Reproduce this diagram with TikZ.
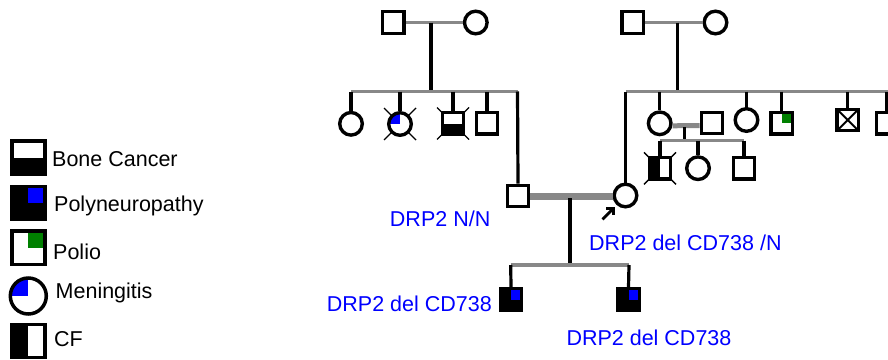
\documentclass[tikz,border=0pt]{standalone}
\usepackage{fontspec}
\setmainfont{Liberation Sans}
\usetikzlibrary{arrows.meta,backgrounds}
\pgfdeclarelayer{canvasbg}
\pgfsetlayers{canvasbg,background,main}
\definecolor{lgray}{RGB}{136,136,136}
\definecolor{pblue}{RGB}{0,0,255}
\definecolor{pgreen}{RGB}{0,128,0}
\tikzset{
  sq/.style={draw, line width=3.4pt, shape=rectangle, minimum size=21.5pt, inner sep=0pt, fill=white},
  ci/.style={draw, line width=3.4pt, circle, minimum size=22.6pt, inner sep=0pt, fill=white},
  lsq/.style={draw, line width=3.5pt, shape=rectangle, minimum size=33.2pt, inner sep=0pt, fill=white},
  lci/.style={draw, line width=3.5pt, circle, minimum size=36pt, inner sep=0pt, fill=white},
  halfbottom/.style={path picture={\fill[black] (path picture bounding box.west) rectangle (path picture bounding box.south east);}},
  halfleft/.style={path picture={\fill[black] (path picture bounding box.north west) rectangle (path picture bounding box.south);}},
  qblue/.style={path picture={\fill[pblue] (path picture bounding box.center) rectangle (path picture bounding box.north east);}},
  qgreen/.style={path picture={\fill[pgreen] (path picture bounding box.center) rectangle (path picture bounding box.north east);}},
  qbluenw/.style={path picture={\fill[pblue] (path picture bounding box.center) rectangle (path picture bounding box.north west);}},
  xcross/.style={path picture={\draw[line width=2pt] (path picture bounding box.north west) -- (path picture bounding box.south east) (path picture bounding box.north east) -- (path picture bounding box.south west);}},
  gline/.style={draw=lgray, line width=3.2pt},
  bline/.style={draw=black, line width=3.2pt},
  cplthick/.style={draw=lgray, line width=6.4pt},
  cplmid/.style={draw=lgray, line width=5pt},
  decl/.style={draw=black, line width=1.4pt},
  lbl/.style={text=pblue, inner sep=0pt, font=\fontsize{21.5}{24}\selectfont},
  ltx/.style={text=black, inner sep=0pt, anchor=base west, font=\fontsize{21.5}{24}\selectfont},
}
\begin{document}
\begin{tikzpicture}[x=1pt,y=-1pt]
\clip (0,0) rectangle (888,359);
\begin{pgfonlayer}{canvasbg}
\fill[white] (0,0) rectangle (888,359);
\end{pgfonlayer}

% ---------- legend ----------
\node[lsq, halfbottom] (lb1) at (28.35,157.65) {};
\node[lsq, fill=black, qblue] (lb2) at (28.35,202.85) {};
\node[lsq, qgreen] (lb3) at (28.35,247.65) {};
\node[lci, qbluenw] (lb4) at (28.3,296) {};
\node[lsq, halfleft] (lb5) at (28.35,341) {};
\node[ltx] (lt1) at (52,166) {Bone Cancer};
\node[ltx] (lt2) at (54,211.7) {Polyneuropathy};
\node[ltx] (lt3) at (53,259.3) {Polio};
\node[ltx] (lt4) at (55.5,298.3) {Meningitis};
\node[ltx] (lt5) at (54,346.7) {CF};

% ---------- left family ----------
\node[sq] (lgf) at (393.3,22.5) {};
\node[ci] (lgm) at (475.8,22.5) {};
\coordinate (lgc) at (431,22.5);
\coordinate (lgs) at (431,91.5);
\coordinate (lsl) at (351,91.5);
\coordinate (lsr) at (517.5,91.5);
\node[ci] (l1) at (351,123.8) {};
\node[ci, qbluenw] (l2) at (400,124) {};
\node[sq, halfbottom] (l3) at (453,123.5) {};
\node[sq] (l4) at (487,123.3) {};
\node[sq] (h) at (518,196) {};

% ---------- right family ----------
\node[sq] (rgf) at (632.8,22.5) {};
\node[ci] (rgm) at (715.5,22.5) {};
\coordinate (rgc) at (677.3,22.5);
\coordinate (rgs) at (677.3,91.7);
\coordinate (rsl) at (625.7,91.7);
\coordinate (rsr) at (900,91.7);
\node[ci] (p) at (625.5,195.5) {};
\node[ci] (r1) at (659.7,123.3) {};
\node[sq] (r1s) at (712,123) {};
\node[ci] (r2) at (746.5,120) {};
\node[sq, qgreen] (r3) at (781.7,123.3) {};
\node[sq, xcross] (r4) at (847.7,120) {};
\node[sq] (r5) at (887,123.3) {};
\coordinate (rcd1) at (684.5,127);
\coordinate (rcd2) at (684.5,140.5);
\coordinate (gsl) at (660,140.5);
\coordinate (gsr) at (744,140.5);
\node[sq, halfleft] (g1) at (660,168.3) {};
\node[ci] (g2) at (698,168.2) {};
\node[sq] (g3) at (744,168.3) {};

% ---------- main couple children ----------
\coordinate (md1) at (570,198);
\coordinate (md2) at (570,265);
\coordinate (csl) at (510.7,265);
\coordinate (csr) at (629,265);
\node[sq, fill=black, qblue] (c1) at (511,299.5) {};
\node[sq, fill=black, qblue] (c2) at (628.5,299.5) {};

% ---------- deceased marks (behind) ----------
\begin{pgfonlayer}{background}
\foreach \n in {l2,l3,g1}{
  \draw[decl] ([shift={(-16,-16)}]\n.center) -- ([shift={(16,16)}]\n.center);
  \draw[decl] ([shift={(-16,16)}]\n.center) -- ([shift={(16,-16)}]\n.center);
}
\end{pgfonlayer}

% ---------- connectors ----------
\draw[gline] (lgf.east) -- (lgm.west);
\draw[bline] (lgc) -- (lgs);
\draw[gline] (lsl) -- (lsr);
\draw[bline] (lsl -| l1) -- (l1.north);
\draw[bline] (lsl -| l2) -- (l2.north);
\draw[bline] (lsl -| l3) -- (l3.north);
\draw[bline] (lsl -| l4) -- (l4.north);
\draw[bline] (lsr) -- (h.north);

\draw[gline] (rgf.east) -- (rgm.west);
\draw[bline] (rgc) -- (rgs);
\draw[gline] (rsl) -- (rsr);
\draw[bline] (rsl) -- (rsl |- p.north);
\draw[bline] (rsl -| r1) -- (r1.north);
\draw[bline] (rsl -| r2) -- (r2.north);
\draw[bline] (rsl -| r3) -- (r3.north);
\draw[bline] (rsl -| r4) -- (r4.north);
\draw[bline] (rsl -| r5) -- (r5.north);
\draw[cplmid] ([yshift=-2.5pt]r1.east) -- ([yshift=-2.5pt]r1s.west);
\draw[bline] (rcd1) -- (rcd2);
\draw[gline] (gsl) -- (gsr);
\draw[bline] (gsl) -- (g1.north);
\draw[bline] (gsl -| g2) -- (g2.north);
\draw[bline] (gsr) -- (g3.north);

\draw[cplthick] ([yshift=-0.6pt]h.east) -- ([yshift=-0.6pt]h.east -| p.west);
\draw[bline] (md1) -- (md2);
\draw[gline] (csl) -- (csr);
\draw[bline] (csl) -- (c1.north);
\draw[bline] (csr) -- (c2.north);

% proband arrow
\coordinate (pa1) at (602.5,219.3);
\coordinate (pa2) at (614.8,207);
\draw[line width=2.8pt, -{Straight Barb[length=5pt,width=10pt]}] (pa1) -- (pa2);

% ---------- labels ----------
\node[lbl, anchor=base east] (t1) at (490.5,226.7) {DRP2 N/N};
\node[lbl, anchor=base west] (t2) at (589,250) {DRP2 del CD738 /N};
\node[lbl, anchor=base east] (t3) at (492,311.7) {DRP2 del CD738};
\node[lbl, anchor=base west] (t4) at (566.3,345) {DRP2 del CD738};
\end{tikzpicture}
\end{document}
